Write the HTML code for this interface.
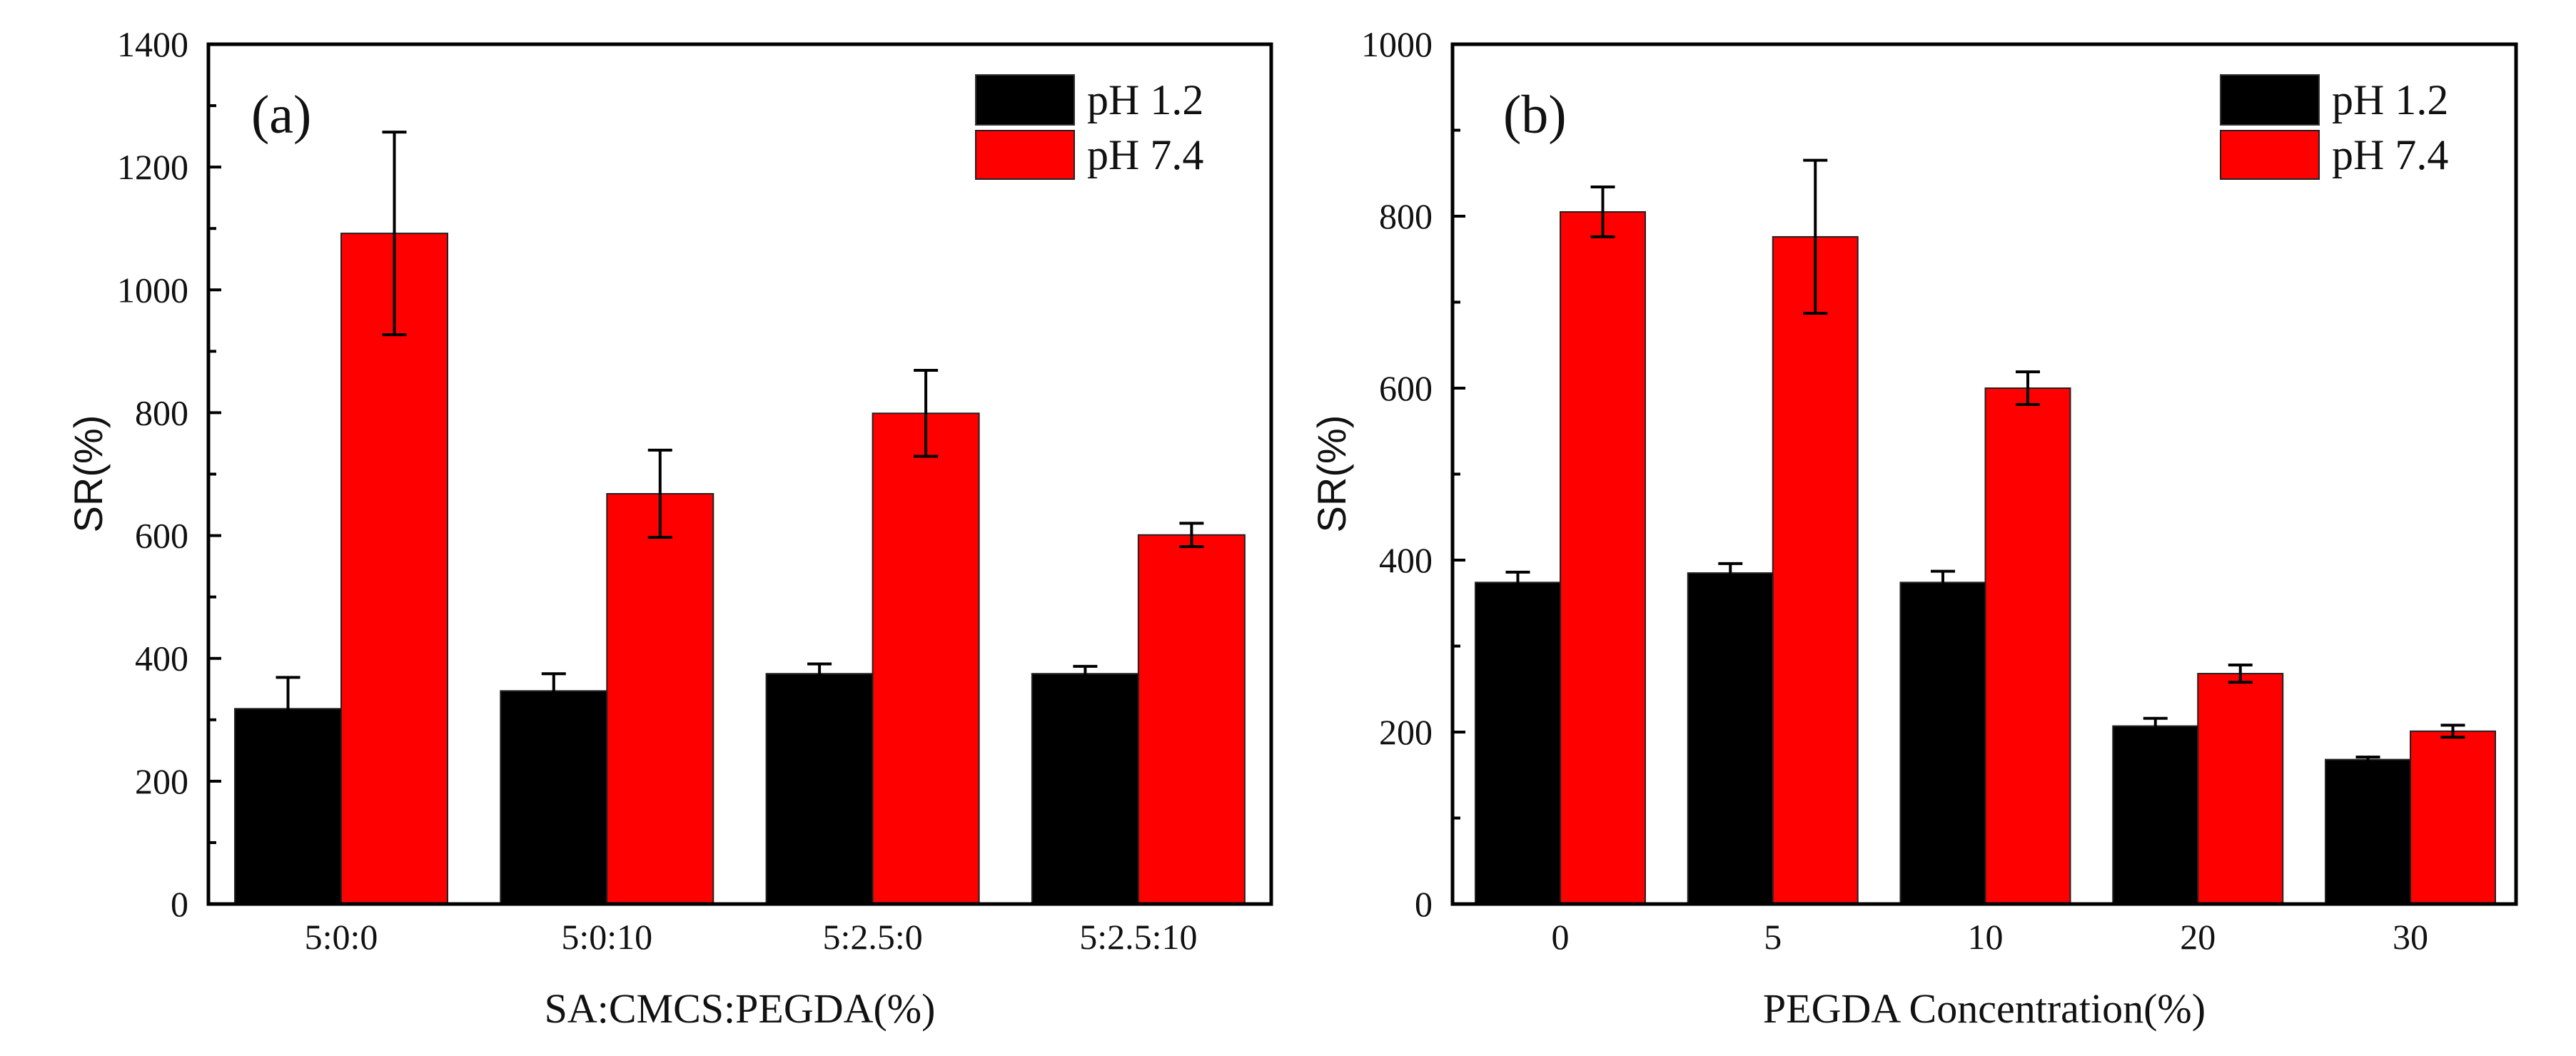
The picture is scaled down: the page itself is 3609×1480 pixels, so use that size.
<!DOCTYPE html>
<html><head><meta charset="utf-8"><style>
html,body{margin:0;padding:0;background:#fff;}
svg{display:block;}
text{font-family:"Liberation Serif",serif;fill:#111;}
</style></head>
<body>
<svg id="chart" width="3609" height="1480" viewBox="0 0 3609 1480" xmlns="http://www.w3.org/2000/svg"></svg>
<script>
// Panel (a) data
const catsA = ["5:0:0", "5:0:10", "5:2.5:0", "5:2.5:10"];
const acidA = [318, 347, 375, 375];
const acidErrA = [51, 28, 16, 12];
const baseA = [1092, 668, 799, 601];
const baseErrA = [165, 71, 70, 19];
const yTicksA = [0, 200, 400, 600, 800, 1000, 1200, 1400];

// Panel (b) data
const catsB = ["0", "5", "10", "20", "30"];
const acidB = [374, 385, 374, 207, 168];
const acidErrB = [12, 11, 13, 9, 3];
const baseB = [805, 776, 600, 268, 201];
const baseErrB = [29, 89, 19, 10, 7];
const yTicksB = [0, 200, 400, 600, 800, 1000];

const NS = "http://www.w3.org/2000/svg";
const svg = document.getElementById("chart");
function el(tag, attrs, parent, txt) {
  const e = document.createElementNS(NS, tag);
  for (const k in attrs) e.setAttribute(k, attrs[k]);
  if (txt !== undefined) e.textContent = txt;
  (parent || svg).appendChild(e);
  return e;
}

function panel(cfg) {
  const g = el("g", {});
  
  
  const L = cfg.left, R = cfg.right, T = 62, B = 1267;
  const yMax = cfg.yTicks[cfg.yTicks.length - 1];
  const y = v => B - (v / yMax) * (B - T);
  const xc = i => cfg.firstCenter + i * cfg.spacing;
  const bw = cfg.barW;

  // bars
  cfg.cats.forEach((c, i) => {
    const b1 = el("rect", {x: xc(i) - bw, y: y(cfg.acid[i]), width: bw, height: B - y(cfg.acid[i]), fill: "#000", stroke: "#222", "stroke-width": 2}, g);
    
    
    const b2 = el("rect", {x: xc(i), y: y(cfg.base[i]), width: bw, height: B - y(cfg.base[i]), fill: "#ff0000", stroke: "#222", "stroke-width": 2}, g);
    
    
    // error bars
    [[xc(i) - bw / 2, cfg.acid[i], cfg.acidErr[i]], [xc(i) + bw / 2, cfg.base[i], cfg.baseErr[i]]].forEach((d, k) => {
      const eg = el("g", {stroke: "#000", "stroke-width": 4}, g);
      
      
      const cx = d[0], top = y(d[1] + d[2]), bot = y(d[1] - d[2]);
      el("line", {x1: cx, x2: cx, y1: top, y2: bot}, eg);
      el("line", {x1: cx - 17, x2: cx + 17, y1: top, y2: top}, eg);
      if (k === 1 || d[2] > 5) el("line", {x1: cx - 17, x2: cx + 17, y1: bot, y2: bot}, eg);
    });
    const tl = el("text", {x: xc(i), y: 1330, "font-size": 50, "text-anchor": "middle"}, g, c);
    
    
  });

  // y ticks
  const step = cfg.yTicks[1] - cfg.yTicks[0];
  for (let v = 0; v <= yMax; v += step / 2) {
    const major = Math.abs((v / step) - Math.round(v / step)) < 1e-6;
    el("line", {x1: L, x2: L + (major ? 18 : 11), y1: y(v), y2: y(v), stroke: "#000", "stroke-width": 4}, g);
  }
  cfg.yTicks.forEach(v => {
    const t = el("text", {x: L - 28, y: y(v) + 17, "font-size": 50, "text-anchor": "end"}, g, String(v));
    
    
  });

  // frame
  const fr = el("rect", {x: L, y: T, width: R - L, height: B - T, fill: "none", stroke: "#000", "stroke-width": 5}, g);
  
  

  // panel letter
  const pl = el("text", {x: L + cfg.letterDx, y: 186, "font-size": 76}, g, cfg.letter);
  
  

  // legend
  const lg = el("g", {}, g);
  
  
  const lx = R - 414;
  const e1 = el("g", {}, lg);
  
  
  el("rect", {x: lx, y: 105, width: 138, height: 70, fill: "#000", stroke: "#333", "stroke-width": 2}, e1);
  el("text", {x: lx + 156, y: 160, "font-size": 60}, e1, "pH 1.2");
  const e2 = el("g", {}, lg);
  
  
  el("rect", {x: lx, y: 183, width: 138, height: 68, fill: "#ff0000", stroke: "#222", "stroke-width": 2}, e2);
  el("text", {x: lx + 156, y: 237, "font-size": 60}, e2, "pH 7.4");

  // axis titles
  const xt = el("text", {x: (L + R) / 2 + cfg.xTitleDx, y: 1433, "font-size": 58, "text-anchor": "middle"}, g, cfg.xTitle);
  
  
  const yt = el("text", {x: 0, y: 0, "font-size": 56, "text-anchor": "middle", transform: `translate(${cfg.yTitleX},664) rotate(-90)`, style: 'font-family:"Liberation Sans",sans-serif'}, g, "SR(%)");
  
  
}

panel({name: "panel-a", left: 292, right: 1781, cats: catsA, acid: acidA, acidErr: acidErrA, base: baseA, baseErr: baseErrA,
  yTicks: yTicksA, firstCenter: 478, spacing: 372.3, barW: 149, letter: "(a)", letterDx: 60,
  xTitle: "SA:CMCS:PEGDA(%)", xTitleDx: 0, yTitleX: 143});
panel({name: "panel-b", left: 2035, right: 3525, cats: catsB, acid: acidB, acidErr: acidErrB, base: baseB, baseErr: baseErrB,
  yTicks: yTicksB, firstCenter: 2186, spacing: 297.75, barW: 119, letter: "(b)", letterDx: 71,
  xTitle: "PEGDA Concentration(%)", xTitleDx: 0, yTitleX: 1885});
</script>
</body></html>
